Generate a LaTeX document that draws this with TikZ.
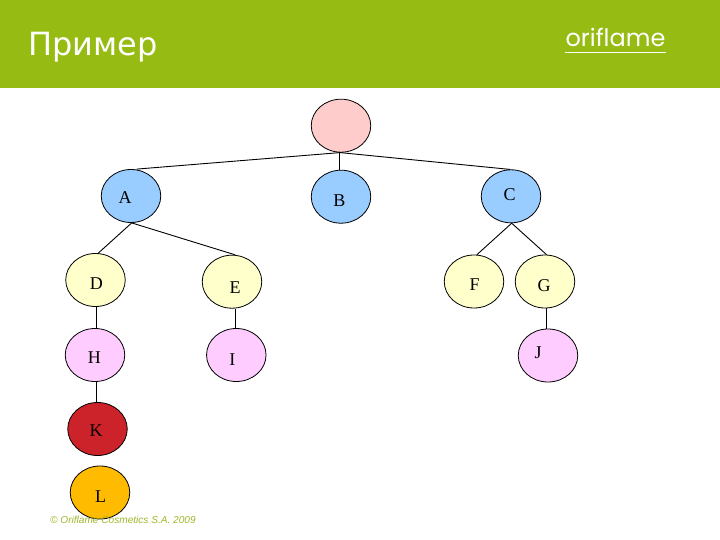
\documentclass[tikz,border=0pt]{standalone}
\usepackage{fontspec}
\setmainfont{Liberation Serif}
\newfontfamily\titlefont{DejaVu Sans}
\newfontfamily\logofont{Poppins}
\newfontfamily\footfont{Liberation Sans}
\usetikzlibrary{shapes.geometric}
\definecolor{band}{HTML}{96BC13}
\definecolor{rootc}{HTML}{FFCCCC}
\definecolor{bluec}{HTML}{99CCFF}
\definecolor{yellowc}{HTML}{FFFFCC}
\definecolor{pinkc}{HTML}{FFCCFF}
\definecolor{redc}{HTML}{CC2229}
\definecolor{orangec}{HTML}{FFBB00}
\definecolor{footc}{HTML}{9DB82A}
\tikzset{
  x=1pt,y=-1pt,
  tree/.style={ellipse,draw=black,line width=0.8pt,minimum width=59.5pt,minimum height=53pt,inner sep=0pt},
  letter/.style={inner sep=0pt,font=\fontsize{18}{18}\selectfont},
  edge/.style={draw=black,line width=0.9pt}
}
\begin{document}
\begin{tikzpicture}
\useasboundingbox (0,0) rectangle (720,540);
\fill[white] (0,0) rectangle (720,540);
\fill[band] (0,0) rectangle (720,88.5);
\node[anchor=base west,inner sep=0pt,text=white,font=\titlefont\fontsize{32}{32}\selectfont] (title) at (28,56) {Пример};
\node[anchor=center,inner sep=0pt,text=white,font=\logofont\fontsize{24}{24}\selectfont] (logo) at (615.5,37) {oriflame};
\coordinate (ruleL) at (565,52.5);
\coordinate (ruleR) at (666,52.5);
\draw[white,line width=0.7pt] (ruleL) -- (ruleR);

\node[tree,fill=rootc] (root) at (341,125.7) {};
\node[tree,fill=bluec] (A) at (131,196) {};
\node[tree,fill=bluec] (B) at (341,196.7) {};
\node[tree,fill=bluec] (C) at (511,196.3) {};
\node[tree,fill=yellowc] (D) at (95.5,280) {};
\node[tree,fill=yellowc] (E) at (232,281.7) {};
\node[tree,fill=yellowc] (F) at (474,281.5) {};
\node[tree,fill=yellowc] (G) at (545,281.5) {};
\node[tree,fill=pinkc] (H) at (95,355) {};
\node[tree,fill=pinkc] (I) at (236.3,355) {};
\node[tree,fill=pinkc] (J) at (548,355.5) {};
\node[tree,fill=redc] (K) at (97.5,429) {};
\node[tree,fill=orangec] (L) at (100,492.5) {};

\draw[edge] ([xshift=-1pt]root.south) -- ([xshift=5.7pt]A.north);
\draw[edge] ([xshift=-1.7pt]root.south) -- ([xshift=-1.7pt]B.north);
\draw[edge] ([xshift=-1pt]root.south) -- ([xshift=-1pt]C.north);
\draw[edge] ([xshift=0.7pt]A.south) -- ([xshift=2.8pt]D.north);
\draw[edge] ([xshift=0.7pt]A.south) -- ([xshift=3pt]E.north);
\draw[edge] ([xshift=0.7pt]C.south) -- ([xshift=3pt]F.north);
\draw[edge] ([xshift=0.7pt]C.south) -- ([xshift=1.5pt]G.north);
\draw[edge] ([xshift=0.8pt]D.south) -- ([xshift=1.3pt]H.north);
\draw[edge] ([xshift=3.3pt]E.south) -- ([xshift=-1pt]I.north);
\draw[edge] ([xshift=1.3pt]G.south) -- ([xshift=-1.7pt]J.north);
\draw[edge] ([xshift=1.3pt]H.south) -- ([xshift=-1.2pt]K.north);

\node[letter] (tA) at (125,198) {A};
\node[letter] (tB) at (339.3,200.3) {B};
\node[letter] (tC) at (509.5,194.5) {C};
\node[letter] (tD) at (96.3,284) {D};
\node[letter] (tE) at (235,287.7) {E};
\node[letter] (tF) at (474.5,285) {F};
\node[letter] (tG) at (544,285.5) {G};
\node[letter] (tH) at (94.3,357.7) {H};
\node[letter] (tI) at (232.3,359.5) {I};
\node[letter] (tJ) at (538,353) {J};
\node[letter] (tK) at (96,431) {K};
\node[letter] (tL) at (100.5,497) {L};

\node[anchor=west,inner sep=0pt,text=footc,font=\footfont\itshape\fontsize{10.1}{10}\selectfont] (foot) at (50,519.5) {© Oriflame Cosmetics S.A. 2009};
\end{tikzpicture}
\end{document}
